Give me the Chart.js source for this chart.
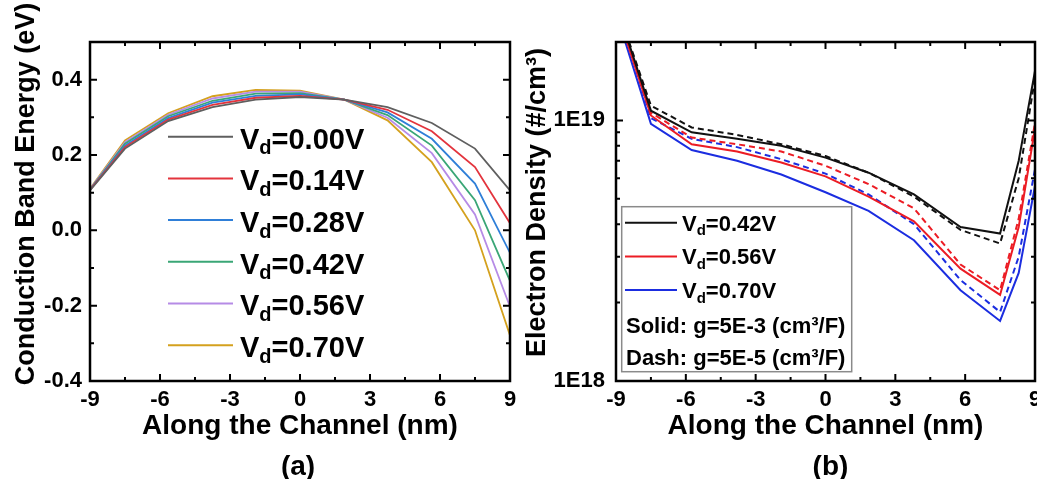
<!DOCTYPE html>
<html>
<head>
<meta charset="utf-8">
<script src="https://cdn.jsdelivr.net/npm/chart.js@4.4.0/dist/chart.umd.min.js"></script>
<style>
  body { margin: 0; background: #fff; }
  #wrap { position: relative; width: 1037px; height: 479px; overflow: hidden; }
  canvas { position: absolute; top: 0; }
</style>
</head>
<body>
<div id="wrap">
  <canvas id="band-chart" width="520" height="479" style="left:0"></canvas>
  <canvas id="density-chart" width="517" height="479" style="left:520px"></canvas>
</div>
<script>
const FONT = "'Liberation Sans', Arial, sans-serif";
Chart.defaults.font.family = FONT;
Chart.defaults.font.weight = 'bold';
Chart.defaults.color = '#000';

// (a) conduction band energy (eV) along the channel
const xA = [-9, -7.5, -5.65, -3.75, -1.9, 0, 1.9, 3.75, 5.65, 7.5, 9];
const vdA = ['0.00', '0.14', '0.28', '0.42', '0.56', '0.70'];
const colorsA = ['#5f5f5f', '#e3343d', '#2f7fd8', '#3aa676', '#b68be6', '#d4a11e'];
const ecVd000 = [0.106, 0.217, 0.290, 0.327, 0.347, 0.354, 0.347, 0.327, 0.285, 0.217, 0.106];
const ecVd014 = [0.107, 0.221, 0.294, 0.333, 0.352, 0.357, 0.347, 0.320, 0.263, 0.168, 0.019];
const ecVd028 = [0.108, 0.225, 0.298, 0.339, 0.357, 0.361, 0.347, 0.313, 0.243, 0.124, -0.060];
const ecVd042 = [0.108, 0.230, 0.303, 0.344, 0.363, 0.364, 0.347, 0.306, 0.225, 0.080, -0.134];
const ecVd056 = [0.109, 0.234, 0.307, 0.350, 0.368, 0.368, 0.347, 0.299, 0.205, 0.042, -0.203];
const ecVd070 = [0.110, 0.239, 0.311, 0.356, 0.373, 0.371, 0.347, 0.292, 0.181, 0.000, -0.279];
const bandSeries = [ecVd000, ecVd014, ecVd028, ecVd042, ecVd056, ecVd070];

// (b) electron density (#/cm3), solid g=5E-3, dash g=5E-5
const xB = [-9, -7.5, -5.75, -3.8, -1.9, 0, 1.85, 3.8, 5.8, 7.5, 8.3, 9];
const vdB = ['0.42', '0.56', '0.70'];
const colorsB = ['#111111', '#ec1c24', '#1b2de0'];
const neSolid042 = [2.8e19, 1.09e19, 9.0e18, 8.5e18, 8.0e18, 7.2e18, 6.3e18, 5.2e18, 3.9e18, 3.68e18, 7.0e18, 1.55e19];
const neDash042 = [2.8e19, 1.14e19, 9.4e18, 8.8e18, 8.1e18, 7.3e18, 6.3e18, 5.1e18, 3.8e18, 3.37e18, 6.0e18, 1.45e19];
const neSolid056 = [2.7e19, 1.045e19, 8.1e18, 7.6e18, 6.9e18, 6.1e18, 5.1e18, 4.1e18, 2.7e18, 2.14e18, 3.9e18, 9.3e18];
const neDash056 = [2.8e19, 1.07e19, 8.6e18, 8.1e18, 7.6e18, 6.7e18, 5.7e18, 4.6e18, 2.8e18, 2.23e18, 4.2e18, 9.8e18];
const neSolid070 = [2.6e19, 9.7e18, 7.7e18, 7.0e18, 6.2e18, 5.3e18, 4.5e18, 3.47e18, 2.23e18, 1.70e18, 2.6e18, 5.6e18];
const neDash070 = [2.8e19, 1.02e19, 8.5e18, 7.9e18, 7.1e18, 6.25e18, 5.2e18, 4.0e18, 2.44e18, 1.84e18, 3.0e18, 6.5e18];
const solidSeries = [neSolid042, neSolid056, neSolid070];
const dashSeries = [neDash042, neDash056, neDash070];

// tick positions
const xMajor = [-9, -6, -3, 0, 3, 6, 9];
const xMinor = [-7.5, -4.5, -1.5, 1.5, 4.5, 7.5];
const bandMajor = [-0.4, -0.2, 0, 0.2, 0.4];
const bandMinor = [-0.3, -0.1, 0.1, 0.3];
const densityMajor = [1e18, 1e19];
const densityMinor = [2e18, 3e18, 4e18, 5e18, 6e18, 7e18, 8e18, 9e18, 2e19];

const toPoints = (xs, ys) => xs.map((x, i) => ({ x: x, y: ys[i] }));

let drawVd = (ctx, x, base, value, size) => {
    ctx.textAlign = 'left';
    ctx.textBaseline = 'alphabetic';
    ctx.font = 'bold ' + size + 'px ' + FONT;
    ctx.fillText('V', x, base);
    x += ctx.measureText('V').width;
    ctx.font = 'bold ' + Math.round(size * 0.68) + 'px ' + FONT;
    ctx.fillText('d', x, base + size * 0.2);
    x += ctx.measureText('d').width;
    ctx.font = 'bold ' + size + 'px ' + FONT;
    ctx.fillText('=' + value + 'V', x, base);
}

// frame, inward ticks, axis titles and legend
let framePlugin = (cfg) => ({
    id: 'frame',
    afterDatasetsDraw(chart) {
        const { ctx, chartArea: a, scales: { x, y } } = chart;
        ctx.save();
        ctx.strokeStyle = '#000';
        ctx.lineWidth = 2;
        ctx.beginPath();
        const tickX = (vals, len) => vals.forEach(v => {
            const p = x.getPixelForValue(v);
            ctx.moveTo(p, a.bottom); ctx.lineTo(p, a.bottom - len);
            ctx.moveTo(p, a.top); ctx.lineTo(p, a.top + len);
        });
        const tickY = (vals, len) => vals.forEach(v => {
            const p = y.getPixelForValue(v);
            ctx.moveTo(a.left, p); ctx.lineTo(a.left + len, p);
            ctx.moveTo(a.right, p); ctx.lineTo(a.right - len, p);
        });
        tickX(xMajor, 7);
        tickX(xMinor, 4);
        tickY(cfg.yMajor, 7);
        tickY(cfg.yMinor, 4);
        ctx.stroke();
        ctx.lineWidth = 2.5;
        ctx.strokeRect(a.left, a.top, a.width, a.height);
        ctx.restore();
    },
    afterDraw(chart) {
        const { ctx, chartArea: a } = chart;
        ctx.save();
        ctx.fillStyle = '#000';
        // x title and panel tag
        ctx.textAlign = 'center';
        ctx.textBaseline = 'alphabetic';
        ctx.font = 'bold 28px ' + FONT;
        const cx = (a.left + a.right) / 2;
        ctx.fillText('Along the Channel (nm)', cx, a.bottom + 53);
        ctx.fillText(cfg.tag, cx + cfg.tagShift, a.bottom + 94);
        // y title
        ctx.save();
        ctx.translate(cfg.yTitleX, cfg.yTitleY);
        ctx.rotate(-Math.PI / 2);
        ctx.textBaseline = 'middle';
        ctx.font = 'bold 27px ' + FONT;
        ctx.fillText(cfg.yTitle, 0, 0);
        ctx.restore();
        cfg.legend(ctx);
        ctx.restore();
    }
});

let bandChart = new Chart(document.getElementById('band-chart'), {
    type: 'line',
    data: {
        datasets: bandSeries.map((s, i) => ({
            label: 'Vd=' + vdA[i] + 'V',
            data: toPoints(xA, s),
            borderColor: colorsA[i],
            borderWidth: 1.8,
            pointRadius: 0,
            tension: 0
        }))
    },
    options: {
        responsive: false,
        animation: false,
        layout: { padding: { left: 0, top: 42, right: 10, bottom: 0 } },
        plugins: { legend: { display: false }, tooltip: { enabled: false } },
        scales: {
            x: {
                type: 'linear', min: -9, max: 9,
                grid: { display: false, drawTicks: false },
                border: { display: false },
                ticks: { stepSize: 3, padding: 6, font: { size: 22 }, callback: v => String(v) },
                afterFit: s => { s.height = 98; s.paddingLeft = 0; s.paddingRight = 0; }
            },
            y: {
                min: -0.4, max: 0.5,
                grid: { display: false, drawTicks: false },
                border: { display: false },
                ticks: {
                    stepSize: 0.2, padding: 8, font: { size: 22 },
                    callback: v => Math.abs(v * 5 - Math.round(v * 5)) < 1e-6 && v < 0.45 ? v.toFixed(1) : ''
                },
                afterFit: s => { s.width = 90; s.paddingTop = 0; s.paddingBottom = 0; }
            }
        }
    },
    plugins: [framePlugin({
        yMajor: bandMajor, yMinor: bandMinor, tag: '(a)', tagShift: -2,
        yTitle: 'Conduction Band Energy (eV)', yTitleX: 27, yTitleY: 194,
        legend: ctx => {
            vdA.forEach((v, i) => {
                const ly = 136.7 + i * 41.7;
                ctx.strokeStyle = colorsA[i];
                ctx.lineWidth = 2;
                ctx.beginPath();
                ctx.moveTo(168, ly); ctx.lineTo(233, ly);
                ctx.stroke();
                ctx.fillStyle = '#000';
                drawVd(ctx, 240, ly + 11.8, v, 29);
            });
        }
    })]
});

let densityDatasets = [];
vdB.forEach((v, i) => {
    densityDatasets.push({
        label: 'Vd=' + v + 'V solid',
        data: toPoints(xB, solidSeries[i]),
        borderColor: colorsB[i], borderWidth: 2, pointRadius: 0, tension: 0
    });
    densityDatasets.push({
        label: 'Vd=' + v + 'V dash',
        data: toPoints(xB, dashSeries[i]),
        borderColor: colorsB[i], borderWidth: 2, borderDash: [6, 4], pointRadius: 0, tension: 0
    });
});

let densityChart = new Chart(document.getElementById('density-chart'), {
    type: 'line',
    data: { datasets: densityDatasets },
    options: {
        responsive: false,
        animation: false,
        layout: { padding: { left: 0, top: 42, right: 2, bottom: 0 } },
        plugins: { legend: { display: false }, tooltip: { enabled: false } },
        scales: {
            x: {
                type: 'linear', min: -9, max: 9,
                grid: { display: false, drawTicks: false },
                border: { display: false },
                ticks: { stepSize: 3, padding: 6, font: { size: 22 }, callback: v => String(v) },
                afterFit: s => { s.height = 98; s.paddingLeft = 0; s.paddingRight = 0; }
            },
            y: {
                type: 'logarithmic', min: 1e18, max: 2e19,
                grid: { display: false, drawTicks: false },
                border: { display: false },
                ticks: {
                    autoSkip: false, padding: 11, font: { size: 22 },
                    callback: v => {
                        const e = Math.log10(v);
                        return Math.abs(e - Math.round(e)) < 1e-6 ? '1E' + Math.round(e) : '';
                    }
                },
                afterFit: s => { s.width = 96; s.paddingTop = 0; s.paddingBottom = 0; }
            }
        }
    },
    plugins: [framePlugin({
        yMajor: densityMajor, yMinor: densityMinor, tag: '(b)', tagShift: 5,
        yTitle: 'Electron Density (#/cm\u00B3)', yTitleX: 17.5, yTitleY: 202.5,
        legend: ctx => {
            ctx.fillStyle = '#fff';
            ctx.fillRect(101.7, 206.7, 230, 165);
            ctx.strokeStyle = '#8a8a8a';
            ctx.lineWidth = 1.5;
            ctx.strokeRect(101.7, 206.7, 230, 165);
            vdB.forEach((v, i) => {
                const ly = 222.7 + i * 33.7;
                ctx.strokeStyle = colorsB[i];
                ctx.lineWidth = 2;
                ctx.beginPath();
                ctx.moveTo(105, ly); ctx.lineTo(157, ly);
                ctx.stroke();
                ctx.fillStyle = '#000';
                drawVd(ctx, 162, ly + 8, v, 22);
            });
            ctx.fillStyle = '#000';
            ctx.textAlign = 'left';
            ctx.font = 'bold 22px ' + FONT;
            ctx.fillText('Solid: g=5E-3 (cm\u00B3/F)', 106, 332.5);
            ctx.fillText('Dash: g=5E-5 (cm\u00B3/F)', 106, 364.5);
        }
    })]
});
</script>
</body>
</html>
